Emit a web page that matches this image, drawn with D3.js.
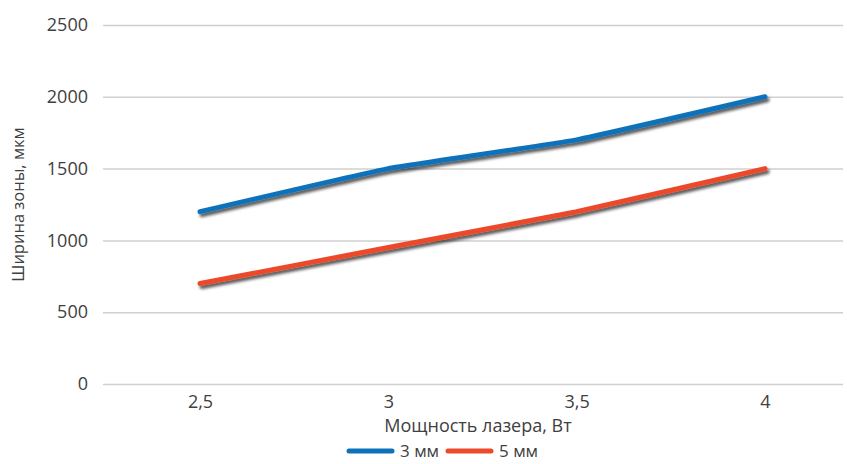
<!DOCTYPE html>
<html>
<head>
<meta charset="utf-8">
<script src="https://cdn.jsdelivr.net/npm/d3@7"></script>
<style>
  body { margin: 0; background: #fff; }
  svg { display: block; font-family: "Open Sans", sans-serif; }
</style>
</head>
<body>
<div id="chart"></div>
<script>
// data
const power = ["2,5", "3", "3,5", "4"];
const width3mm = [1200, 1500, 1700, 2000];
const width5mm = [700, 950, 1200, 1500];
const yTicks = [0, 500, 1000, 1500, 2000, 2500];

const series = [
	{ name: "3 мм", values: width3mm, color: "#0E72BA" },
	{ name: "5 мм", values: width5mm, color: "#EC4A2A" }
];

const W = 847, H = 464;
const margin = { top: 25, right: 4, bottom: 80, left: 103 };
const width = W - margin.left - margin.right;
const height = H - margin.top - margin.bottom;

const svg = d3.select("#chart")
	.append("svg")
	.attr("width", W)
	.attr("height", H);

// shadow under the lines
svg.append("defs")
	.append("filter")
	.attr("id", "shadow")
	.attr("x", "-10%").attr("y", "-30%")
	.attr("width", "120%").attr("height", "160%")
	.append("feDropShadow")
	.attr("dx", 2)
	.attr("dy", 3)
	.attr("stdDeviation", 1.6)
	.attr("flood-color", "#000")
	.attr("flood-opacity", 0.65);

const g = svg.append("g")
	.attr("transform", `translate(${margin.left},${margin.top})`);

// scales
const x = d3.scalePoint()
	.domain(power)
	.range([97, 662]);

const y = d3.scaleLinear()
	.domain([0, 2500])
	.range([height, 0]);

// grid + y axis labels
g.append("g")
	.call(d3.axisLeft(y).tickValues(yTicks).tickFormat(d3.format("d")).tickSize(-width).tickPadding(15))
	.call(a => a.select(".domain").remove())
	.call(a => a.selectAll(".tick line").attr("stroke", "#d0d0d0").attr("stroke-width", 1.5))
	.call(a => a.selectAll(".tick text")
		.attr("fill", "#404040")
		.style("font-size", "18px")
		.style("font-family", "Open Sans"));

// x axis labels
g.append("g")
	.attr("transform", `translate(0,${height})`)
	.call(d3.axisBottom(x).tickSize(0).tickPadding(11))
	.call(a => a.select(".domain").remove())
	.call(a => a.selectAll(".tick text")
		.attr("fill", "#404040")
		.style("font-size", "18px")
		.style("font-family", "Open Sans"));

// lines
const line = d3.line()
	.x((d, i) => x(power[i]))
	.y(d => y(d))
	.curve(d3.curveCardinal.tension(0.7));

g.selectAll(".series")
	.data(series)
	.enter()
	.append("path")
	.attr("class", "series")
	.attr("d", d => line(d.values))
	.attr("fill", "none")
	.attr("stroke", d => d.color)
	.attr("stroke-width", 5)
	.attr("stroke-linecap", "round")
	.attr("stroke-linejoin", "round")
	.attr("filter", "url(#shadow)");

// axis titles
svg.append("text")
	.attr("transform", `translate(24,${margin.top + height / 2}) rotate(-90)`)
	.attr("text-anchor", "middle")
	.attr("fill", "#404040")
	.style("font-size", "16.5px")
	.text("Ширина зоны, мкм");

svg.append("text")
	.attr("x", margin.left + width / 2 + 5)
	.attr("y", 432)
	.attr("text-anchor", "middle")
	.attr("fill", "#404040")
	.style("font-size", "18px")
	.text("Мощность лазера, Вт");

// legend
const legendX = [349, 448];
const legend = svg.selectAll(".legend")
	.data(series)
	.enter()
	.append("g")
	.attr("class", "legend")
	.attr("transform", (d, i) => `translate(${legendX[i]},451)`);

legend.append("line")
	.attr("x1", 0).attr("x2", 43)
	.attr("stroke", d => d.color)
	.attr("stroke-width", 5)
	.attr("stroke-linecap", "round");

legend.append("text")
	.attr("x", 51)
	.attr("y", 6)
	.attr("fill", "#404040")
	.style("font-size", "17px")
	.text(d => d.name);
</script>
</body>
</html>
